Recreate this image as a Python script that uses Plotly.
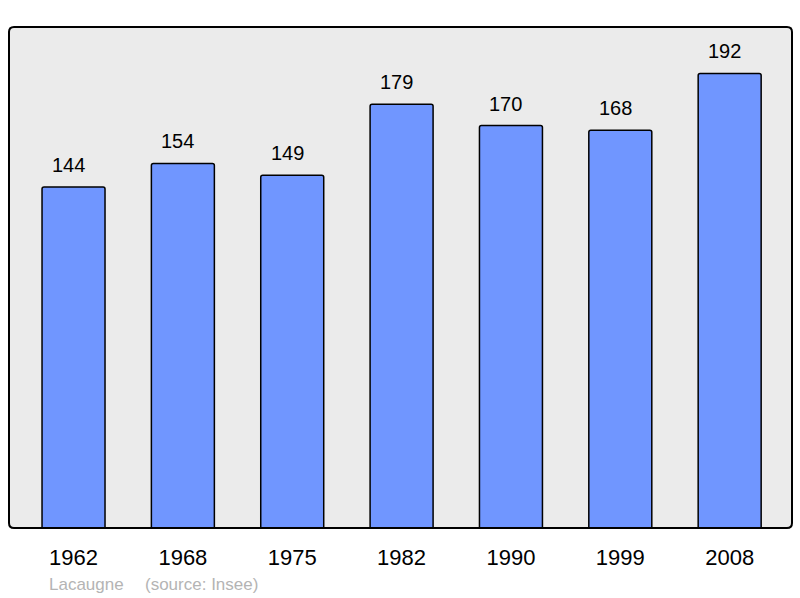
import plotly.graph_objects as go

years = ["1962", "1968", "1975", "1982", "1990", "1999", "2008"]
population = [144, 154, 149, 179, 170, 168, 192]
commune = "Lacaugne"
source = "(source: Insee)"

xs = list(range(len(years)))

fig = go.Figure()
fig.add_trace(go.Bar(
    x=xs, y=population, width=0.576,
    marker=dict(color="#7096ff", line=dict(color="#000000", width=1.5), cornerradius=2),
    hoverinfo="skip",
))

for x, v in zip(xs, population):
    fig.add_annotation(x=x, y=v, text=str(v), showarrow=False, yanchor="bottom",
                       yshift=9, xshift=-5, font=dict(size=20, color="#000000"))

# rounded border of the plot area
W, H = 800, 598
ml, mr, mt, mb = 9, 8, 27, 70
pw, ph = W - ml - mr, H - mt - mb
r = 5
rx, ry = r / pw, r / ph
path = (f"M {rx},0 L {1-rx},0 Q 1,0 1,{ry} L 1,{1-ry} Q 1,1 {1-rx},1 "
        f"L {rx},1 Q 0,1 0,{1-ry} L 0,{ry} Q 0,0 {rx},0 Z")
fig.add_shape(type="path", xref="paper", yref="paper", path=path,
              line=dict(color="#000000", width=2), layer="above")

fig.add_annotation(xref="paper", yref="paper", x=(47 - ml) / pw, y=-(584 - 528) / ph,
                   text=commune, showarrow=False, xanchor="left", yanchor="middle",
                   font=dict(size=17, color="#b4b4b4"))
fig.add_annotation(xref="paper", yref="paper", x=(143 - ml) / pw, y=-(584 - 528) / ph,
                   text=source, showarrow=False, xanchor="left", yanchor="middle",
                   font=dict(size=17, color="#b4b4b4"))

fig.update_layout(
    width=W, height=H,
    margin=dict(l=ml, r=mr, t=mt, b=mb),
    paper_bgcolor="#ffffff", plot_bgcolor="#ebebeb",
    font=dict(family="Liberation Sans, Arial, sans-serif", color="#000000"),
    showlegend=False,
    xaxis=dict(range=[-0.59, 6.57], tickvals=xs, ticktext=years, showgrid=False,
               zeroline=False, ticks="", tickfont=dict(size=22), ticklabelstandoff=14),
    yaxis=dict(range=[0, 211.6], visible=False, showgrid=False, zeroline=False),
)

fig.write_html("out.html", post_script="document.body.style.margin='0';",
               config={"displayModeBar": False})
